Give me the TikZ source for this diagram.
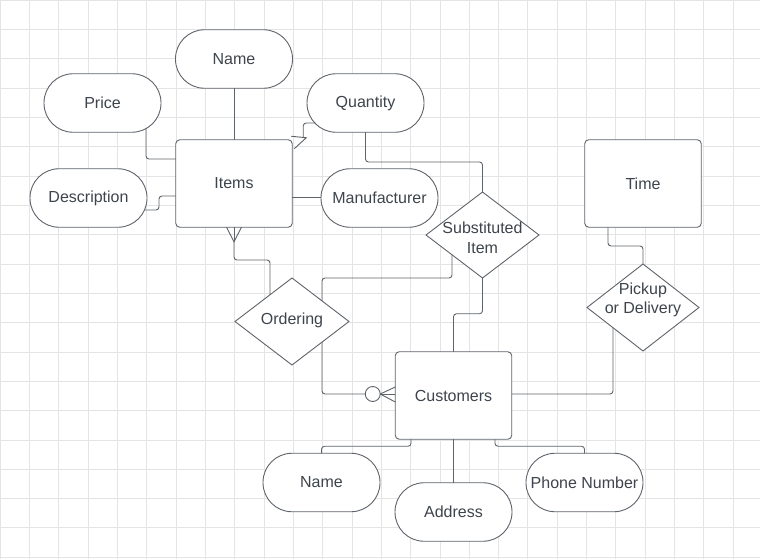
\documentclass[tikz,border=0pt]{standalone}
\usepackage{fontspec}
\setmainfont{Liberation Sans}
\usetikzlibrary{shapes.geometric,calc}
\definecolor{linec}{HTML}{5F646B}
\definecolor{textc}{HTML}{3E444C}
\definecolor{gridc}{HTML}{E4E4E4}
\newcommand\lblfont{\fontsize{16}{19.5}\selectfont}
\tikzset{
  gridline/.style={draw=gridc, line width=0.9pt},
  attr/.style={draw=linec, line width=0.9pt, rounded corners=29pt, minimum width=117pt, minimum height=58.5pt, inner sep=0pt, outer sep=0pt, text=textc, font=\lblfont, fill=white},
  entity/.style={draw=linec, line width=0.9pt, rounded corners=4pt, minimum width=116.5pt, minimum height=87.5pt, inner sep=0pt, outer sep=0pt, text=textc, font=\lblfont, fill=white},
  rel/.style={diamond, draw=linec, line width=0.9pt, minimum width=113pt, minimum height=86pt, inner sep=0pt, outer sep=0pt, fill=white},
  rellbl/.style={text=textc, font=\lblfont, align=center, inner sep=0pt},
  conn/.style={draw=linec, line width=0.9pt, rounded corners=3pt},
  tipline/.style={draw=linec, line width=0.9pt},
}
\begin{document}
\begin{tikzpicture}[x=1pt,y=-1pt]
\useasboundingbox (0,0) rectangle (760,559);
\fill[white] (0,0) rectangle (760,559);
% grid
\foreach \i in {0,...,26} \draw[gridline] (\i*29.33,0) -- (\i*29.33,559);
\foreach \j in {0,...,19} \draw[gridline] (0,\j*29.33) -- (760,\j*29.33);

% nodes
\node[attr] (nameT) at (234,59) {Name};
\node[attr] (price) at (102.5,103) {Price};
\node[attr] (qty) at (365.5,103) {Quantity};
\node[attr] (desc) at (88.5,198) {Description};
\node[attr] (manu) at (379.5,198) {Manufacturer};
\node[entity] (items) at (234,183.5) {Items};
\node[entity] (time) at (643,183.5) {Time};
\node[rel] (sub) at (482.5,235) {};
\node[rellbl] (sublbl) at (482.5,238) {Substituted\\Item};
\node[rel, minimum width=112pt, minimum height=87pt] (pick) at (643,307.5) {};
\node[rellbl] (picklbl) at (643,300) {Pickup\\or Delivery};
\node[rel, minimum width=114pt, minimum height=87pt] (ord) at (292,321.5) {};
\node[rellbl] (ordlbl) at (292,320.5) {Ordering};
\node[entity] (cust) at (453.5,395.5) {Customers};
\node[attr] (nameB) at (321.5,482.5) {Name};
\node[attr] (addr) at (453.5,512) {Address};
\node[attr] (phone) at (584.5,482.5) {Phone Number};

% connectors
\draw[conn] (nameT.south) -- (items.north);
\draw[conn] ($(price.center)+(43.5,25.4)$) |- (items.west |- 0,159);
\draw[conn] ($(desc.center)+(56.4,12)$) -- (159,210) -- (159,196) -- (items.west |- 0,196);
\draw[conn] (items.east |- 0,197) -- (manu.west |- 0,197);
% quantity -> items (open arrowhead)
\coordinate (qtip) at ($(items.north east)+(14,-2)$);
\draw[conn] ($(qty.center)+(-50,20)$) -| ($(qtip)+(-3,-0.5)$);
\draw[tipline] ($(qtip)+(-15,-1.5)$) -- (qtip) -- ($(qtip)+(-12,11)$);
% quantity -> substituted item
\draw[conn] (qty.south) |- ($(sub.north)+(0,-30)$) -- (sub.north);
% substituted item -> ordering
\draw[conn] ($(sub.center)+(-30.5,20)$) |- ($(ord.center)+(30,-43.5)$) -- ($(ord.center)+(30,-20.6)$);
% substituted item -> customers
\draw[conn] (sub.south) |- ($(cust.north)+(0,-38)$) -- (cust.north);
% items -> ordering with crow's foot
\coordinate (ifoot) at ($(items.south)+(0,14.5)$);
\draw[tipline] ($(items.south)+(-7.5,0)$) -- (ifoot) -- ($(items.south)+(7.5,0)$);
\draw[tipline] (items.south) -- (ifoot);
\draw[conn] (ifoot) |- ($(ord.center)+(-22,-61.5)$) -- ($(ord.center)+(-22,-26.8)$);
% ordering -> customers (zero or many)
\coordinate (cfoot) at ($(cust.west)+(-15,-1.5)$);
\node[circle, draw=linec, line width=0.9pt, minimum size=15pt, inner sep=0pt, outer sep=0pt, fill=white] (zero) at ($(cust.west)+(-22.5,-1.5)$) {};
\draw[conn] ($(ord.center)+(30,20.6)$) |- (zero.west);
\draw[tipline] (cfoot) -- ($(cust.west)+(0,-8.5)$);
\draw[tipline] (cfoot) -- ($(cust.west)+(0,-1.5)$);
\draw[tipline] (cfoot) -- ($(cust.west)+(0,6.5)$);
% time -> pickup
\draw[conn] ($(time.south)+(-35,0)$) |- ($(pick.north)+(0,-18)$) -- (pick.north);
% pickup -> customers
\draw[conn] ($(pick.center)+(-30,20.2)$) |- ($(cust.east)+(0,-1.5)$);
% customers -> attributes
\draw[conn] ($(cust.south)+(-42.5,0)$) -- ++(0,7) -| (nameB.north);
\draw[conn] (cust.south) -- (addr.north);
\draw[conn] ($(cust.south)+(41.5,0)$) -- ++(0,7) -| (phone.north);
\end{tikzpicture}
\end{document}
